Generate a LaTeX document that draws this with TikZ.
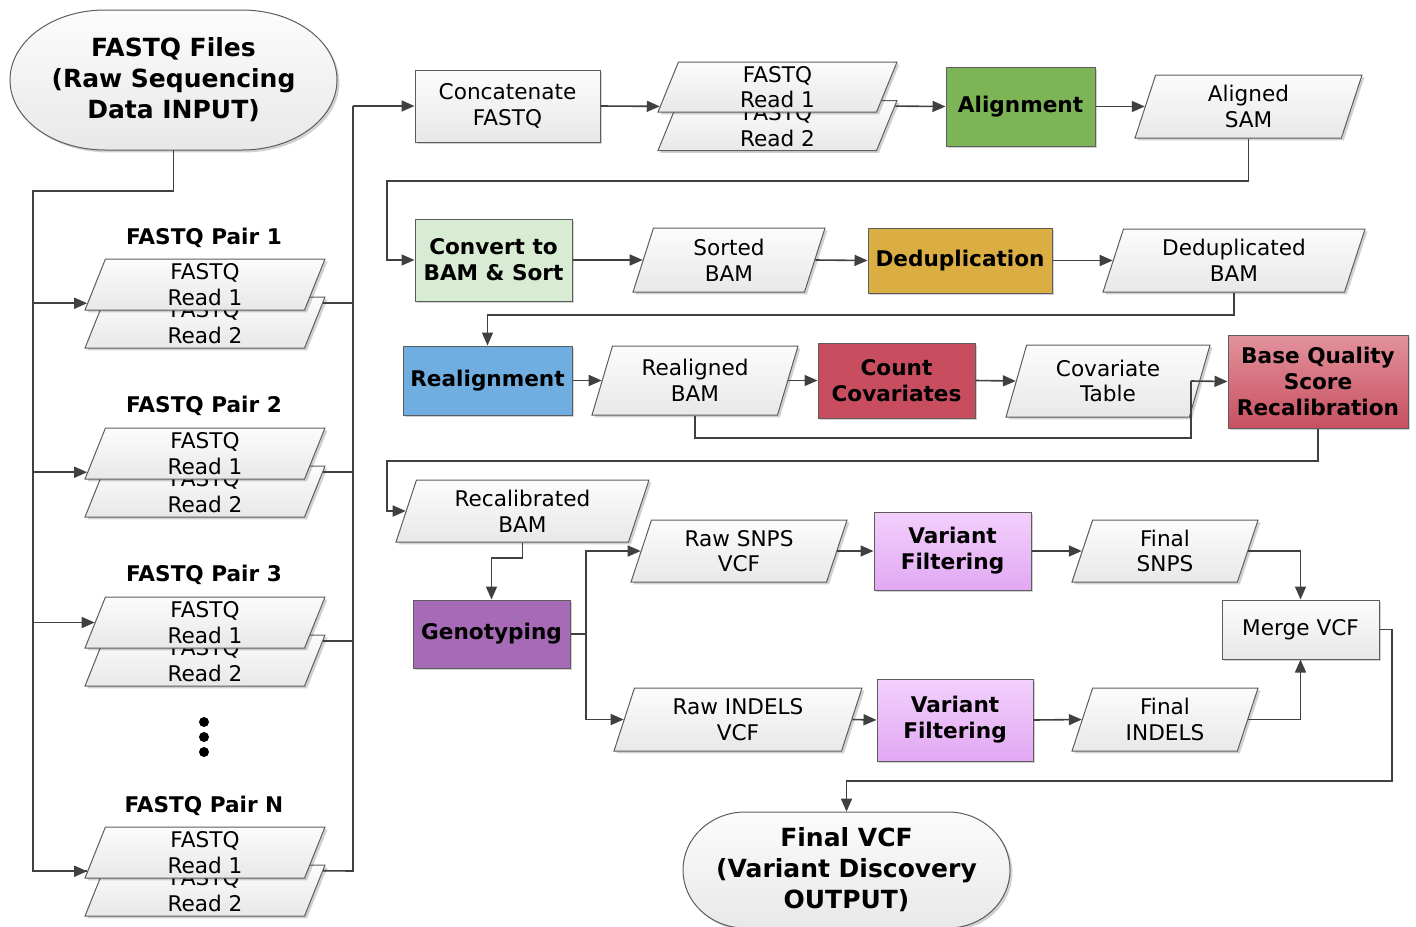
\documentclass[tikz,border=0pt]{standalone}
\usepackage{fontspec}
\setmainfont{DejaVu Sans}
\usepackage{tikz}
\usetikzlibrary{arrows.meta,positioning,calc,shapes.geometric,shadows}

\definecolor{edge}{RGB}{64,64,64}
\definecolor{boxtop}{RGB}{252,252,252}
\definecolor{boxbot}{RGB}{232,232,232}
\definecolor{aligngreen}{RGB}{124,180,86}
\definecolor{sortgreen}{RGB}{216,235,211}
\definecolor{dedupgold}{RGB}{218,174,66}
\definecolor{realblue}{RGB}{112,173,225}
\definecolor{countred}{RGB}{200,78,95}
\definecolor{bqsrtop}{RGB}{226,146,156}
\definecolor{bqsrbot}{RGB}{200,80,96}
\definecolor{genopurple}{RGB}{167,106,183}
\definecolor{filttop}{RGB}{243,208,252}
\definecolor{filtbot}{RGB}{225,168,243}

\newcommand{\normtxt}{\fontsize{10.8pt}{12.8pt}\selectfont}
\newcommand{\boldtxt}{\fontsize{10.8pt}{13pt}\selectfont\bfseries}
\newcommand{\termtxt}{\fontsize{12.5pt}{15.5pt}\selectfont\bfseries}

\tikzset{
  softshadow/.style={drop shadow={shadow xshift=1.2pt,shadow yshift=-1.2pt,fill=black,opacity=0.18}},
  arr/.style={draw=edge,line width=0.8pt,-{Triangle[length=6.5pt,width=5.5pt]}},
  link/.style={draw=edge,line width=0.8pt},
  proc/.style={rectangle,draw=edge!85,line width=0.5pt,inner sep=0pt,align=center,
    font=\boldtxt,softshadow},
  graybox/.style={proc,font=\normtxt,top color=boxtop,bottom color=boxbot},
  data/.style={trapezium,trapezium left angle=64,trapezium right angle=116,
    trapezium stretches body,draw=edge!85,line width=0.5pt,inner sep=0pt,
    top color=boxtop,bottom color=boxbot,align=center,font=\normtxt,softshadow},
  readbox/.style={data,minimum width=120pt,minimum height=25.5pt},
  termbox/.style={draw=edge!85,line width=0.5pt,top color=boxtop,bottom color=boxbot,softshadow},
  termtext/.style={rectangle,inner sep=0pt,align=center,font=\termtxt},
  pairlabel/.style={inner sep=0pt,font=\boldtxt},
  dot/.style={circle,fill=black,inner sep=0pt,minimum size=5pt}
}

\begin{document}
\begin{tikzpicture}[x=0.5pt,y=-0.5pt]
  \useasboundingbox (0,0) rectangle (1416,926);

  % input terminal
  \draw[termbox] (105,10) -- (242,10)
    arc[start angle=90,end angle=-90,x radius=47.5pt,y radius=35pt] -- (105,150)
    arc[start angle=270,end angle=90,x radius=47.5pt,y radius=35pt] -- cycle;
  \node[termtext,minimum width=163.5pt,minimum height=70pt] (start) at (173.5,80)
    {FASTQ Files\\(Raw Sequencing\\Data INPUT)};

  % read pairs (Read 2 first, Read 1 on top)
  \node[pairlabel] (lab1) at (204,238) {FASTQ Pair 1};
  \node[readbox] (p1b) at (205,322.5) {FASTQ\\Read 2};
  \node[readbox] (p1a) at (205,284.5) {FASTQ\\Read 1};
  \node[pairlabel] (lab2) at (204,406) {FASTQ Pair 2};
  \node[readbox] (p2b) at (205,491.5) {FASTQ\\Read 2};
  \node[readbox] (p2a) at (205,453.5) {FASTQ\\Read 1};
  \node[pairlabel] (lab3) at (204,575) {FASTQ Pair 3};
  \node[readbox] (p3b) at (205,660.5) {FASTQ\\Read 2};
  \node[readbox] (p3a) at (205,622.5) {FASTQ\\Read 1};
  \node[dot] (dot1) at (204,722) {};
  \node[dot] (dot2) at (204,737) {};
  \node[dot] (dot3) at (204,752) {};
  \node[pairlabel] (labN) at (204,806) {FASTQ Pair N};
  \node[readbox] (pNb) at (205,890.5) {FASTQ\\Read 2};
  \node[readbox] (pNa) at (205,852.5) {FASTQ\\Read 1};

  % alignment row
  \node[graybox,minimum width=92.5pt,minimum height=36pt] (concat) at (507.5,106) {Concatenate\\FASTQ};
  \node[data,minimum width=119.5pt,minimum height=25pt] (fqb) at (777.5,125.5) {FASTQ\\Read 2};
  \node[data,minimum width=119.5pt,minimum height=25pt] (fqa) at (777.5,87) {FASTQ\\Read 1};
  \node[proc,fill=aligngreen,minimum width=74.5pt,minimum height=39.5pt] (align) at (1020.5,106.5) {Alignment};
  \node[data,minimum width=113.5pt,minimum height=31.5pt] (asam) at (1248.5,106.5) {Aligned\\SAM};

  % sort and dedup row
  \node[proc,fill=sortgreen,minimum width=78.5pt,minimum height=41pt] (convert) at (493.5,260) {Convert to\\BAM \& Sort};
  \node[data,minimum width=96pt,minimum height=32pt] (sbam) at (729,260) {Sorted\\BAM};
  \node[proc,fill=dedupgold,minimum width=92pt,minimum height=32.5pt] (dedup) at (960,260.5) {Deduplication};
  \node[data,minimum width=131pt,minimum height=31.5pt] (dbam) at (1234,260.5) {Deduplicated\\BAM};

  % realignment and recalibration row
  \node[proc,fill=realblue,minimum width=84.5pt,minimum height=34.5pt] (realign) at (487.5,380.5) {Realignment};
  \node[data,minimum width=103pt,minimum height=34.5pt] (rbam) at (695,380.5) {Realigned\\BAM};
  \node[proc,fill=countred,minimum width=78.5pt,minimum height=37.5pt] (count) at (896.5,380.5) {Count\\Covariates};
  \node[data,minimum width=102pt,minimum height=36pt] (covt) at (1108,381) {Covariate\\Table};
  \node[proc,top color=bqsrtop,bottom color=bqsrbot,minimum width=90pt,minimum height=46.5pt] (bqsr) at (1318,381.5)
    {Base Quality\\Score\\Recalibration};

  % genotyping and filtering
  \node[data,minimum width=126.5pt,minimum height=31pt] (recal) at (522.5,511) {Recalibrated\\BAM};
  \node[proc,fill=genopurple,minimum width=78.5pt,minimum height=34pt] (geno) at (491.5,634) {Genotyping};
  \node[data,minimum width=108pt,minimum height=31pt] (rsnp) at (739,551) {Raw SNPS\\VCF};
  \node[proc,top color=filttop,bottom color=filtbot,minimum width=78.5pt,minimum height=39pt] (vf1) at (952.5,551) {Variant\\Filtering};
  \node[data,minimum width=93pt,minimum height=31pt] (fsnp) at (1165,551) {Final\\SNPS};
  \node[data,minimum width=124pt,minimum height=31.5pt] (rind) at (738,719.5) {Raw INDELS\\VCF};
  \node[proc,top color=filttop,bottom color=filtbot,minimum width=78pt,minimum height=41pt] (vf2) at (955,720) {Variant\\Filtering};
  \node[data,minimum width=93pt,minimum height=31.5pt] (find) at (1165,719.5) {Final\\INDELS};
  \node[graybox,minimum width=78.5pt,minimum height=29.5pt] (merge) at (1300.5,629.5) {Merge VCF};

  % output terminal
  \draw[termbox] (745,812) -- (948,812)
    arc[start angle=90,end angle=-90,x radius=31pt,y radius=29pt] -- (745,928)
    arc[start angle=270,end angle=90,x radius=31pt,y radius=29pt] -- cycle;
  \node[termtext,minimum width=163.5pt,minimum height=58pt] (final) at (846.5,870)
    {Final VCF\\(Variant Discovery\\OUTPUT)};

  % entry and exit points of the read pairs
  \coordinate (in1) at ($(p1a.bottom left corner)!0.14!(p1a.top left corner)$);
  \coordinate (in2) at ($(p2a.bottom left corner)!0.14!(p2a.top left corner)$);
  \coordinate (in3) at (p3a.left side);
  \coordinate (inN) at ($(pNa.bottom left corner)!0.14!(pNa.top left corner)$);
  \coordinate (out1) at ($(p1b.bottom right corner)!0.88!(p1b.top right corner)$);
  \coordinate (out2) at ($(p2b.bottom right corner)!0.88!(p2b.top right corner)$);
  \coordinate (out3) at ($(p3b.bottom right corner)!0.88!(p3b.top right corner)$);
  \coordinate (outN) at ($(pNb.bottom right corner)!0.88!(pNb.top right corner)$);
  \coordinate (fqin) at ($(fqa.bottom left corner)!0.12!(fqa.top left corner)$);
  \coordinate (fqout) at ($(fqb.bottom right corner)!0.88!(fqb.top right corner)$);
  \coordinate (covj) at ($(covt.right side)+(-9,0)$);

  % bus lines
  \coordinate (ltop) at (33,191);
  \coordinate (rtop) at (353,106);
  \coordinate (rbot) at (353,871);
  \draw[link] (start.south) |- (ltop) |- (inN);
  \draw[arr] (ltop |- in1) -- (in1);
  \draw[arr] (ltop |- in2) -- (in2);
  \draw[arr] (ltop |- in3) -- (in3);
  \draw[arr] (ltop |- inN) -- (inN);
  \draw[link] (out1) -- (rtop |- out1);
  \draw[link] (out2) -- (rtop |- out2);
  \draw[link] (out3) -- (rtop |- out3);
  \draw[link] (outN) -- (rbot) -- (rtop);
  \draw[arr] (rtop) -- (concat.west);

  % main flow
  \coordinate (turn1) at (387,181);
  \coordinate (turn2) at (0,315);
  \coordinate (turn3) at (0,438);
  \coordinate (turn4) at (387,461);
  \coordinate (turn5) at (0,558);
  \coordinate (split) at (586,634);
  \coordinate (turn6) at (1392,781);
  \draw[arr] (concat.east) -- (fqin);
  \draw[arr] (fqout) -- (align.west);
  \draw[arr] (align.east) -- (asam.left side);
  \draw[arr] (asam.south) |- (turn1) |- (convert.west);
  \draw[arr] (convert.east) -- (sbam.left side);
  \draw[arr] (sbam.right side) -- (dedup.west);
  \draw[arr] (dedup.east) -- (dbam.left side);
  \draw[arr] (dbam.south) |- (turn2 -| realign.north) -- (realign.north);
  \draw[arr] (realign.east) -- (rbam.left side);
  \draw[arr] (rbam.right side) -- (count.west);
  \draw[arr] (count.east) -- (covt.left side);
  \draw[arr] (covj) -- (bqsr.west);
  \draw[link] (rbam.south) |- (turn3 -| covj) -- (covj);
  \draw[arr] (bqsr.south) |- (turn4) |- (recal.left side);
  \draw[arr] (recal.south) |- (turn5 -| geno.north) -- (geno.north);
  \draw[link] (geno.east) -- (split);
  \draw[arr] (split) |- (rsnp.left side);
  \draw[arr] (split) |- (rind.left side);
  \draw[arr] (rsnp.right side) -- (vf1.west);
  \draw[arr] (vf1.east) -- (fsnp.left side);
  \draw[arr] (fsnp.right side) -| (merge.north);
  \draw[arr] (rind.right side) -- (vf2.west);
  \draw[arr] (vf2.east) -- (find.left side);
  \draw[arr] (find.right side) -| (merge.south);
  \draw[arr] (merge.east) -| (turn6) -| (final.north);
\end{tikzpicture}
\end{document}
